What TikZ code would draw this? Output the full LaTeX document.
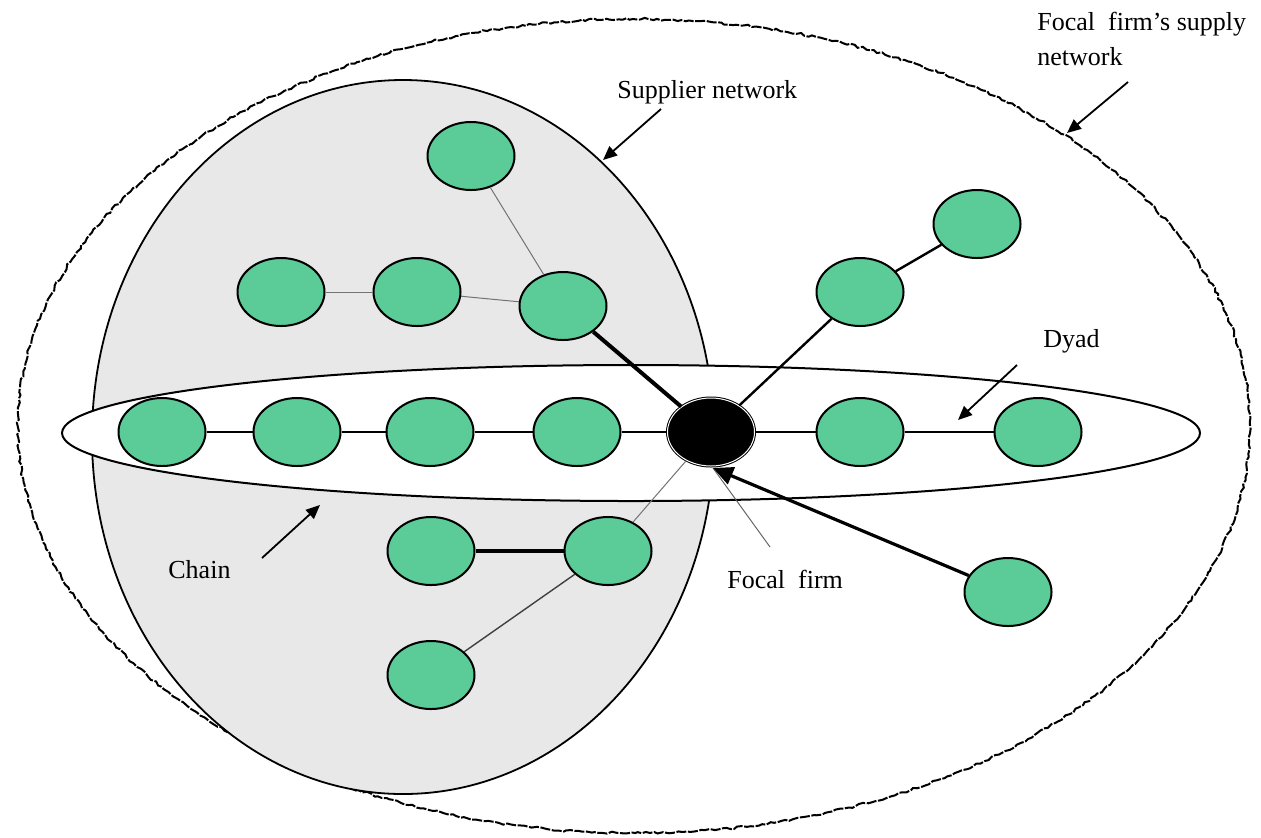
\documentclass[tikz,border=0pt]{standalone}
\usepackage{fontspec}
\setmainfont{Liberation Serif}
\usetikzlibrary{arrows.meta,decorations.pathmorphing,shapes.geometric}
\definecolor{firmgreen}{HTML}{5BCB98}
\definecolor{netgrey}{HTML}{E8E8E8}
\begin{document}
\begin{tikzpicture}[x=0.5pt,y=-0.5pt,
  firm/.style={ellipse, draw=black, line width=1pt, fill=firmgreen,
    minimum width=43.5pt, minimum height=34pt, inner sep=0pt},
  focal/.style={firm, fill=black, draw=black, line width=0.5pt,
    double=white, double distance=0.5pt},
  lbl/.style={font=\fontsize{13}{17.5}\selectfont, anchor=base west, inner sep=0pt},
  link/.style={line width=1.2pt},
  strong/.style={line width=2pt},
  faint/.style={line width=0.5pt, draw=black!55},
  pointer/.style={line width=0.9pt, -{Triangle[length=7pt,width=6pt]}},
  bigpointer/.style={line width=1.6pt, -{Triangle[length=10pt,width=9pt]}},
  rough/.style={line width=1pt, decorate,
    decoration={random steps, segment length=2pt, amplitude=0.6pt}, dash pattern=on 5pt off 0.8pt}
]
\useasboundingbox (0,0) rectangle (1261,837);
\pgfmathsetseed{7}
% outer supply network
\draw[rough] (634,426) ellipse [x radius=308pt, y radius=203.5pt];
% supplier network
\draw[line width=0.9pt, fill=netgrey] (403,437) ellipse [x radius=155.5pt, y radius=178.5pt];
% chain
\draw[line width=1pt, fill=white] (631,433) ellipse [x radius=284.5pt, y radius=34pt];

% nodes
\node[firm] (t)  at (471,156) {};
\node[firm] (s1) at (281,292) {};
\node[firm] (s2) at (417,292) {};
\node[firm] (s3) at (563,306) {};
\node[firm] (c1) at (162,432) {};
\node[firm] (c2) at (297,432) {};
\node[firm] (c3) at (430,432) {};
\node[firm] (c4) at (577,432) {};
\node[focal] (f) at (711,432) {};
\node[firm] (d1) at (860,432) {};
\node[firm] (d2) at (1038,432) {};
\node[firm] (u1) at (860,292) {};
\node[firm] (u2) at (977,224) {};
\node[firm] (l1) at (431,551) {};
\node[firm] (l2) at (608,551) {};
\node[firm] (l3) at (431,675) {};
\node[firm] (br) at (1008,592) {};

% connectors
\draw[faint] (t) -- (s3);
\draw[faint] (s1) -- (s2);
\draw[faint] (s2) -- (s3);
\draw[strong] (s3) -- (f);
\draw[link] (c1) -- (c2);
\draw[link] (c2) -- (c3);
\draw[link] (c3) -- (c4);
\draw[link] (c4) -- (f);
\draw[link] (f) -- (d1);
\draw[link] (d1) -- (d2);
\draw[link] (f) -- (u1);
\draw[link] (u1) -- (u2);
\draw[strong] (l1) -- (l2);
\draw[faint] (l2) -- (f);
\draw[line width=0.7pt, draw=black!75] (l2) -- (l3);

% labels
\node[lbl] (lsup) at (617,98) {Supplier network};
\node[lbl, anchor=north west, align=left] (lnet) at (1037,12) {Focal\ \ firm’s supply\\network};
\node[lbl] (ldyad) at (1043,347) {Dyad};
\node[lbl] (lchain) at (168,578) {Chain};
\node[lbl] (lfocal) at (727,588) {Focal\ \ firm};

% pointer arrows
\coordinate (a1s) at (661,109); \coordinate (a1e) at (603,160);
\coordinate (a2s) at (1128,82); \coordinate (a2e) at (1067,133);
\coordinate (a3s) at (1017,365); \coordinate (a3e) at (958,420);
\coordinate (a4s) at (262,558); \coordinate (a4e) at (320,505);
\coordinate (ftip) at (713,468);
\coordinate (fl) at (770,547);
\draw[pointer] (a1s) -- (a1e);
\draw[pointer] (a2s) -- (a2e);
\draw[pointer] (a3s) -- (a3e);
\draw[pointer] (a4s) -- (a4e);
\draw[line width=0.5pt, draw=black!60] (fl) -- (ftip);
\draw[bigpointer] (br) -- (ftip);
\end{tikzpicture}
\end{document}
